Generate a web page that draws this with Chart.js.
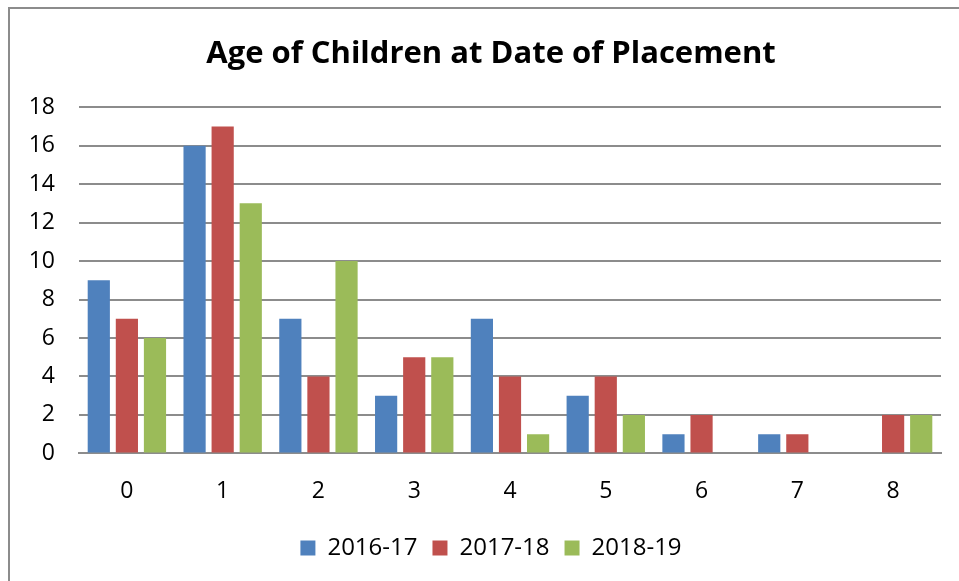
<!DOCTYPE html>
<html>
<head>
<meta charset="utf-8">
<script src="https://cdn.jsdelivr.net/npm/chart.js@4.4.0/dist/chart.umd.min.js"></script>
<style>
  html, body { margin: 0; padding: 0; background: #fff; }
  #wrap { position: relative; width: 959px; height: 581px; overflow: hidden; }
  #frame { position: absolute; left: 8px; top: 7px; width: 960px; height: 590px; border: 2px solid #8c8c8c; box-sizing: border-box; }
  #myChart { position: absolute; left: 0; top: 0; }
</style>
</head>
<body>
<div id="wrap">
  <div id="frame"></div>
  <canvas id="myChart" width="959" height="581"></canvas>
</div>
<script>
const ages = ['0', '1', '2', '3', '4', '5', '6', '7', '8'];
const seriesNames = ['2016-17', '2017-18', '2018-19'];
const y2016 = [9, 16, 7, 3, 7, 3, 1, 1, 0];
const y2017 = [7, 17, 4, 5, 4, 4, 2, 1, 2];
const y2018 = [6, 13, 10, 5, 1, 2, 0, 0, 2];
const colors = ['#4f81bd', '#c0504d', '#9bbb59'];

const font = "'Open Sans', 'Noto Sans', sans-serif";

// y labels sit partly in the left padding, so widen the label clip box
const widenYAxis = {
    id: 'widenYAxis',
    afterLayout(chart) {
        chart.scales.y.left = 0;
    }
};

const ctx = document.getElementById('myChart').getContext('2d');
new Chart(ctx, {
    type: 'bar',
    data: {
        labels: ages,
        datasets: [y2016, y2017, y2018].map((vals, i) => ({
            label: seriesNames[i],
            data: vals,
            backgroundColor: colors[i],
            borderWidth: 0,
            categoryPercentage: 0.88,
            barPercentage: 0.79
        }))
    },
    plugins: [widenYAxis],
    options: {
        responsive: false,
        animation: false,
        layout: { padding: { left: 41, right: 18, top: 36, bottom: 11 } },
        plugins: {
            title: {
                display: true,
                text: 'Age of Children at Date of Placement',
                color: '#000',
                font: { family: font, size: 31, weight: 'bold' },
                padding: { top: 0, bottom: 34 }
            },
            legend: {
                position: 'bottom',
                labels: {
                    color: '#000',
                    font: { family: font, size: 24 },
                    boxWidth: 15,
                    boxHeight: 15,
                    padding: 15
                }
            },
            tooltip: { enabled: false }
        },
        scales: {
            x: {
                grid: { display: false },
                border: { color: '#8c8c8c', width: 2 },
                ticks: { color: '#000', font: { family: font, size: 23 }, padding: 16 }
            },
            y: {
                min: 0,
                max: 18,
                ticks: { stepSize: 2, color: '#000', font: { family: font, size: 23 }, padding: 24 },
                grid: { color: '#8c8c8c', lineWidth: 2, drawTicks: false },
                border: { display: false },
                afterFit: function (axis) { axis.width = 38; }
            }
        }
    }
});
</script>
</body>
</html>
